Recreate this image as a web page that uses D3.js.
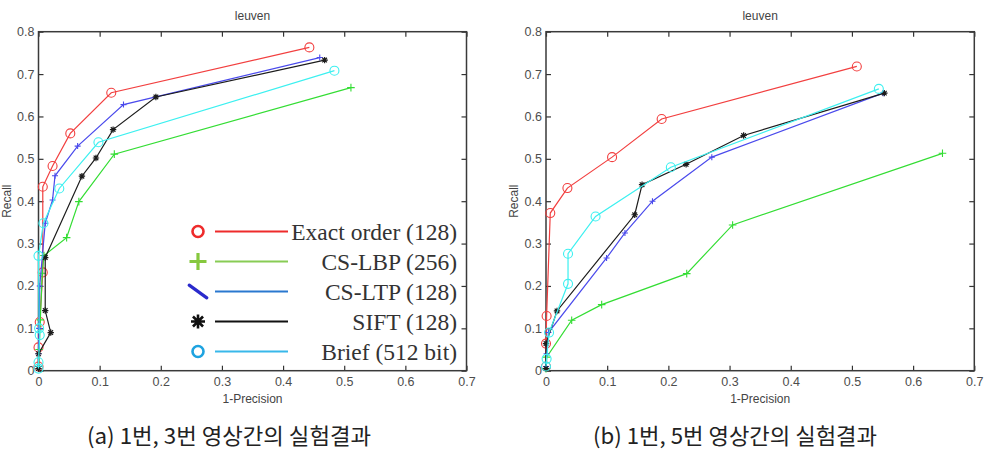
<!DOCTYPE html>
<html>
<head>
<meta charset="utf-8">
<script src="https://cdn.jsdelivr.net/npm/d3@7"></script>
<style>
  body { margin: 0; background: #fff; }
</style>
</head>
<body>
<div id="chart"></div>
<script>
// ---- data ----
const seriesNames = ["Exact order (128)", "CS-LBP (256)", "CS-LTP (128)", "SIFT (128)", "Brief (512 bit)"];
const xTicks = [0, 0.1, 0.2, 0.3, 0.4, 0.5, 0.6, 0.7];
const yTicks = [0, 0.1, 0.2, 0.3, 0.4, 0.5, 0.6, 0.7, 0.8];
const titles = ["leuven", "leuven"];
const captions = ["(a) 1번, 3번 영상간의 실험결과", "(b) 1번, 5번 영상간의 실험결과"];

// panel (a): [1-precision, recall]
const exactA = [[0, 0.01], [0, 0.055], [0.002, 0.115], [0.007, 0.232], [0.007, 0.434], [0.023, 0.483], [0.052, 0.56], [0.119, 0.656], [0.443, 0.763]];
const lbpA   = [[0, 0.01], [0.001, 0.05], [0.003, 0.12], [0.006, 0.23], [0.009, 0.272], [0.046, 0.314], [0.066, 0.399], [0.124, 0.511], [0.511, 0.668]];
const ltpA   = [[0, 0.01], [0, 0.04], [0.001, 0.1], [0.002, 0.2], [0.011, 0.348], [0.023, 0.403], [0.027, 0.46], [0.064, 0.53], [0.139, 0.628], [0.46, 0.739]];
const siftA  = [[0, 0.005], [0, 0.04], [0.02, 0.09], [0.011, 0.142], [0.011, 0.267], [0.071, 0.459], [0.094, 0.502], [0.122, 0.569], [0.192, 0.646], [0.468, 0.733]];
const briefA = [[0, 0.005], [0, 0.02], [0.002, 0.084], [0.001, 0.1], [0, 0.271], [0.008, 0.348], [0.034, 0.43], [0.098, 0.539], [0.484, 0.708]];

// panel (b)
const exactB = [[0, 0.01], [0, 0.064], [0.001, 0.129], [0.007, 0.372], [0.035, 0.431], [0.108, 0.504], [0.189, 0.594], [0.508, 0.718]];
const lbpB   = [[0, 0.005], [0.001, 0.032], [0.042, 0.119], [0.091, 0.156], [0.23, 0.229], [0.305, 0.344], [0.648, 0.513]];
const ltpB   = [[0, 0.01], [0.001, 0.04], [0.004, 0.09], [0.099, 0.266], [0.129, 0.325], [0.174, 0.4], [0.271, 0.504], [0.551, 0.655]];
const siftB  = [[0, 0.005], [0, 0.064], [0.018, 0.141], [0.145, 0.368], [0.157, 0.439], [0.229, 0.487], [0.323, 0.555], [0.553, 0.655]];
const briefB = [[0, 0.01], [0.001, 0.028], [0.005, 0.09], [0.036, 0.205], [0.036, 0.276], [0.081, 0.364], [0.204, 0.48], [0.544, 0.665]];

const panelData = [[exactA, lbpA, ltpA, siftA, briefA], [exactB, lbpB, ltpB, siftB, briefB]];

// ---- styles ----
const lineColors = ["#f23f3f", "#33dd33", "#4a4aec", "#1c1c1c", "#3cf0f0"];
const markers = ["o", "+", "+", "*", "o"];
const legendLineColors = ["#ee2b2b", "#88cc55", "#2a78cf", "#111111", "#38b8ea"];
const legendMarkColors = ["#ee2b2b", "#86c83e", "#2a2acc", "#111111", "#1ea3e0"];
const legendMarks = ["o", "+", "\\", "*", "o"];

const width = 990, height = 454;
const panels = [{ left: 38.5, right: 466.5 }, { left: 546, right: 974.3 }];
const plotTop = 31.7, plotBottom = 370.7;

const svg = d3.select("#chart").append("svg")
  .attr("width", width)
  .attr("height", height)
  .attr("viewBox", [0, 0, width, height])
  .style("display", "block")
  .style("background", "#fff");

function markerPath(type, s) {
  if (type === "+") return `M${-s},0H${s}M0,${-s}V${s}`;
  if (type === "*") {
    const d = s * 0.72;
    return `M${-s},0H${s}M0,${-s}V${s}M${-d},${-d}L${d},${d}M${-d},${d}L${d},${-d}`;
  }
  if (type === "\\") return `M${-s * 0.55},${-s * 0.4}L${s * 0.55},${s * 0.4}`;
  return null;
}

function drawMarker(g, type, cx, cy, s, color, sw) {
  if (type === "o") {
    g.append("circle").attr("cx", cx).attr("cy", cy).attr("r", s)
      .attr("fill", "none").attr("stroke", color).attr("stroke-width", sw);
  } else {
    g.append("path").attr("transform", `translate(${cx},${cy})`)
      .attr("d", markerPath(type, s))
      .attr("fill", "none").attr("stroke", color).attr("stroke-width", sw)
      .attr("stroke-linecap", type === "\\" ? "round" : "butt");
  }
}

panels.forEach((p, pi) => {
  const x = d3.scaleLinear([0, 0.7], [p.left, p.right]);
  const y = d3.scaleLinear([0, 0.8], [plotBottom, plotTop]);
  const g = svg.append("g");

  // axes (MATLAB style: inward ticks on all four sides)
  const fmt = d => d === 0 ? "0" : d3.format(".1f")(d);
  g.append("g").attr("transform", `translate(0,${plotBottom})`)
    .call(d3.axisBottom(x).tickValues(xTicks).tickFormat(fmt).tickSize(-5).tickPadding(6));
  g.append("g").attr("transform", `translate(${p.left},0)`)
    .call(d3.axisLeft(y).tickValues(yTicks).tickFormat(fmt).tickSize(-5).tickPadding(4));
  g.append("g").attr("transform", `translate(0,${plotTop})`)
    .call(d3.axisTop(x).tickValues(xTicks).tickFormat("").tickSize(-5));
  g.append("g").attr("transform", `translate(${p.right},0)`)
    .call(d3.axisRight(y).tickValues(yTicks).tickFormat("").tickSize(-5));

  g.selectAll(".domain").remove();
  g.selectAll(".tick line").attr("stroke", "#333").attr("stroke-width", 1.2);
  g.selectAll(".tick text")
    .attr("fill", "#4d4d4d")
    .attr("font-family", "Liberation Sans, Arial, sans-serif")
    .attr("font-size", 12.5);

  g.append("rect")
    .attr("x", p.left).attr("y", plotTop)
    .attr("width", p.right - p.left).attr("height", plotBottom - plotTop)
    .attr("fill", "none").attr("stroke", "#3a3a3a").attr("stroke-width", 1.5);

  // title and axis labels
  g.append("text")
    .attr("x", (p.left + p.right) / 2).attr("y", 20)
    .attr("text-anchor", "middle")
    .attr("font-family", "Liberation Sans, Arial, sans-serif")
    .attr("font-size", 12).attr("fill", "#444")
    .text(titles[pi]);
  g.append("text")
    .attr("x", (p.left + p.right) / 2).attr("y", 403)
    .attr("text-anchor", "middle")
    .attr("font-family", "Liberation Sans, Arial, sans-serif")
    .attr("font-size", 12).attr("fill", "#444")
    .text("1-Precision");
  g.append("text")
    .attr("transform", `translate(${p.left - 28},${(plotTop + plotBottom) / 2}) rotate(-90)`)
    .attr("text-anchor", "middle")
    .attr("font-family", "Liberation Sans, Arial, sans-serif")
    .attr("font-size", 12).attr("fill", "#444")
    .text("Recall");

  // curves
  const line = d3.line().x(d => x(d[0])).y(d => y(d[1]));
  panelData[pi].forEach((series, si) => {
    const sg = g.append("g");
    sg.append("path")
      .attr("d", line(series))
      .attr("fill", "none")
      .attr("stroke", lineColors[si])
      .attr("stroke-width", 1.2);
    series.forEach(d => {
      const m = markers[si];
      const s = m === "o" ? 4.5 : (si === 2 ? 3 : (m === "*" ? 3.2 : 3.8));
      drawMarker(sg, m, x(d[0]), y(d[1]), s, lineColors[si], m === "*" ? 1.2 : 1.1);
    });
  });

  // caption
  svg.append("text")
    .attr("x", pi === 0 ? 229 : 735).attr("y", 444)
    .attr("text-anchor", "middle")
    .attr("font-family", "Noto Sans CJK KR, sans-serif")
    .attr("font-size", 22).attr("fill", "#222")
    .attr("textLength", 284).attr("lengthAdjust", "spacingAndGlyphs")
    .text(captions[pi]);
});

// legend pasted into panel (a)
const leg = svg.append("g");
seriesNames.forEach((name, i) => {
  const cy = 231.5 + i * 30;
  const mk = legendMarks[i];
  const size = mk === "o" ? 5.5 : (mk === "\\" ? 16 : (mk === "+" ? 8.5 : 7));
  drawMarker(leg, mk, 198, cy, size, legendMarkColors[i], mk === "o" ? 2.6 : (mk === "*" ? 2.6 : 3.2));
  leg.append("line")
    .attr("x1", 215).attr("x2", 288).attr("y1", cy).attr("y2", cy)
    .attr("stroke", legendLineColors[i]).attr("stroke-width", 2.2);
  leg.append("text")
    .attr("x", 457).attr("y", cy + 8)
    .attr("text-anchor", "end")
    .attr("font-family", "Liberation Serif, Times New Roman, serif")
    .attr("font-size", 23.5).attr("fill", "#333")
    .text(name);
});
</script>
</body>
</html>
